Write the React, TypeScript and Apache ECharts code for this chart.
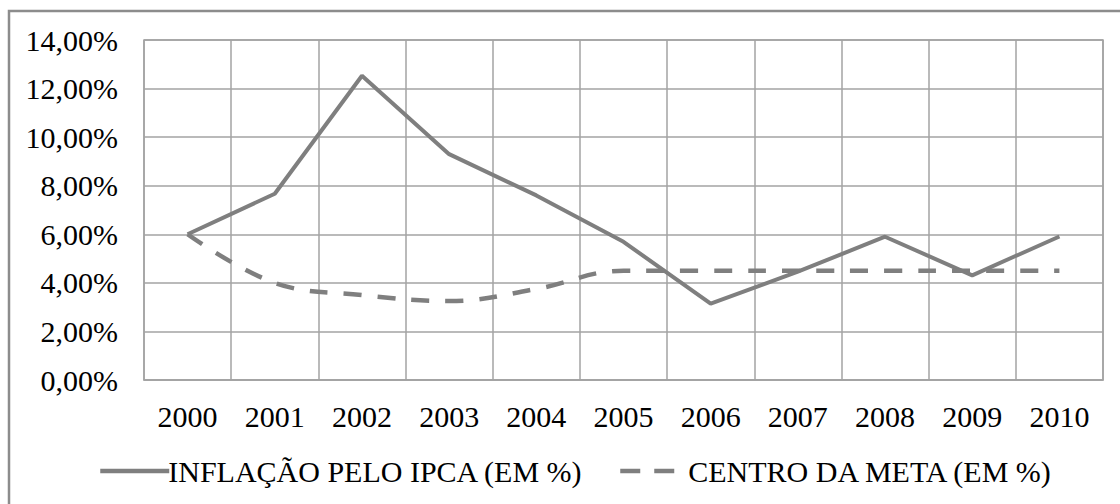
import React, { useEffect, useRef } from "react";
import * as echarts from "echarts";

const years = ["2000", "2001", "2002", "2003", "2004", "2005", "2006", "2007", "2008", "2009", "2010"];
const ipca = [6.0, 7.67, 12.53, 9.3, 7.6, 5.69, 3.14, 4.46, 5.9, 4.31, 5.91];
const meta = [6.0, 4.0, 3.5, 3.25, 3.75, 4.5, 4.5, 4.5, 4.5, 4.5, 4.5];
const seriesNames = ["INFLAÇÃO PELO IPCA (EM %)", "CENTRO DA META (EM %)"];
const yMin = 0;
const yMax = 14;
const yStep = 2;

const FONT = "Liberation Serif";
const LINE = "#7f7f7f";
const GRID = "#a3a3a3";
const FS = 30;

export default function App() {
  const ref = useRef<HTMLDivElement>(null);
  useEffect(() => {
    if (!ref.current) return;
    const chart = echarts.init(ref.current, undefined, { renderer: "svg" });
    chart.setOption({
      animation: false,
      backgroundColor: "#ffffff",
      textStyle: { fontFamily: FONT, color: "#000" },
      graphic: [
        {
          type: "rect",
          shape: { x: 9, y: 11, width: 1130, height: 520 },
          style: { fill: "none", stroke: "#8c8c8c", lineWidth: 2.5 },
          silent: true,
        },
      ],
      grid: {
        left: 144,
        right: 17,
        top: 40,
        bottom: 124,
        show: true,
        borderColor: GRID,
        borderWidth: 1.5,
      },
      legend: [
        {
          data: [seriesNames[0]],
          left: 93,
          top: 451,
          itemWidth: 69,
          itemHeight: 14,
          itemGap: 0,
          itemStyle: { color: "rgba(0,0,0,0)", borderWidth: 0, opacity: 0 },
          lineStyle: { color: LINE, width: 4.5, type: "solid" },
          textStyle: { fontFamily: FONT, fontSize: FS, color: "#000", padding: [0, 0, 0, -6] },
        },
        {
          data: [seriesNames[1]],
          left: 613,
          top: 451,
          itemWidth: 54,
          itemHeight: 14,
          itemGap: 0,
          itemStyle: { color: "rgba(0,0,0,0)", borderWidth: 0, opacity: 0 },
          lineStyle: { color: LINE, width: 4.5, type: [20, 14] },
          textStyle: { fontFamily: FONT, fontSize: FS, color: "#000", padding: [0, 0, 0, 9] },
        },
      ],
      xAxis: {
        type: "category",
        data: years,
        boundaryGap: true,
        axisLine: { show: true, lineStyle: { color: GRID, width: 1.5 } },
        axisTick: { show: false },
        axisLabel: { fontFamily: FONT, fontSize: FS, color: "#000", margin: 21 },
        splitLine: { show: true, lineStyle: { color: GRID, width: 1.5 } },
      },
      yAxis: {
        type: "value",
        min: yMin,
        max: yMax,
        interval: yStep,
        axisLine: { show: false },
        axisTick: { show: false },
        axisLabel: {
          fontFamily: FONT,
          fontSize: FS,
          color: "#000",
          margin: 26,
          formatter: (v: number) => v.toFixed(2).replace(".", ",") + "%",
        },
        splitLine: { show: true, lineStyle: { color: GRID, width: 1.5 } },
      },
      series: [
        {
          name: seriesNames[0],
          type: "line",
          data: ipca,
          symbol: "none",
          lineStyle: { color: LINE, width: 4 },
          itemStyle: { color: LINE },
        },
        {
          name: seriesNames[1],
          type: "line",
          data: meta,
          symbol: "none",
          smooth: 0.4,
          lineStyle: { color: LINE, width: 4.5, type: [18, 16] },
          itemStyle: { color: LINE },
        },
      ],
    });
    return () => chart.dispose();
  }, []);
  return (
    <div
      ref={ref}
      style={{ position: "fixed", left: 0, top: 0, width: 1120, height: 504 }}
    />
  );
}
